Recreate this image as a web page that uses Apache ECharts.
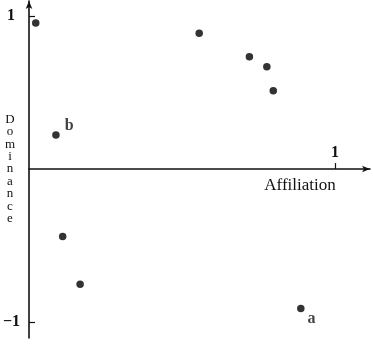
<!DOCTYPE html>
<html>
<head>
<meta charset="utf-8">
<script src="https://cdn.jsdelivr.net/npm/echarts@6/dist/echarts.min.js"></script>
<style>
  html, body { margin: 0; padding: 0; background: #fff; }
  #main { width: 373px; height: 349px; }
</style>
</head>
<body>
<div id="main"></div>
<script>
// values
const affiliation = [0.022, 0.088, 0.110, 0.167, 0.556, 0.720, 0.777, 0.798, 0.888];
const dominance   = [0.954, 0.223, -0.440, -0.752, 0.887, 0.733, 0.668, 0.511, -0.911];
const pointNames  = ['', 'b', '', '', '', '', '', '', 'a'];
const xTicks = [1];
const yTicks = [-1, 1];

const serif = '"Liberation Serif", "DejaVu Serif", serif';

const fmt = v => v < 0 ? '\u2212' + Math.abs(v) : String(v);

let myChart = echarts.init(document.getElementById('main'));

const points = affiliation.map((x, i) => {
  const item = { value: [x, dominance[i]] };
  if (pointNames[i] === 'b') {
    item.label = { show: true, formatter: 'b', position: 'right', offset: [0, -9] };
  } else if (pointNames[i] === 'a') {
    item.label = { show: true, formatter: 'a', position: 'right', offset: [-2, 10] };
  }
  return item;
});

myChart.setOption({
  animation: false,
  grid: { left: 29, right: 3, top: 1, bottom: 11, containLabel: false, outerBoundsMode: 'none' },
  xAxis: {
    type: 'value',
    min: 0,
    max: 1.114,
    axisLine: {
      onZero: true,
      symbol: ['none', 'arrow'],
      symbolSize: [5, 8],
      lineStyle: { color: '#111', width: 1.6 }
    },
    axisTick: { show: true, inside: true, length: 6, customValues: xTicks, lineStyle: { color: '#111', width: 1.2 } },
    // the label does not follow the zero line here, so it is drawn below as text
    axisLabel: { show: false },
    splitLine: { show: false }
  },
  yAxis: {
    type: 'value',
    min: -1.104,
    max: 1.098,
    axisLine: {
      symbol: ['none', 'arrow'],
      symbolSize: [5, 8],
      lineStyle: { color: '#111', width: 1.6 }
    },
    axisTick: { show: true, inside: true, length: 6, customValues: yTicks, lineStyle: { color: '#111', width: 1.2 } },
    axisLabel: {
      margin: 9, customValues: yTicks,
      formatter: v => v > 0 ? '{pos|' + fmt(v) + '}' : fmt(v),
      rich: { pos: { padding: [0, 5, 0, 0], fontFamily: serif, fontWeight: 'bold', fontSize: 16, color: '#111' } },
      color: '#111', fontFamily: serif, fontWeight: 'bold', fontSize: 16
    },
    splitLine: { show: false }
  },
  graphic: [
    {
      type: 'text', x: 335, y: 153,
      style: { text: fmt(xTicks[0]), fill: '#111', font: 'bold 16px ' + serif, align: 'center', verticalAlign: 'middle' }
    },
    {
      type: 'text', x: 300, y: 186,
      style: { text: 'Affiliation', fill: '#111', font: '17px ' + serif, align: 'center', verticalAlign: 'middle' }
    },
    {
      type: 'text', x: 10, y: 169,
      style: {
        text: 'Dominance'.split('').join('\n'),
        fill: '#111', font: '13px ' + serif, lineHeight: 12.4,
        align: 'center', verticalAlign: 'middle'
      }
    }
  ],
  series: [{
    type: 'scatter',
    symbol: 'circle',
    symbolSize: 7.5,
    itemStyle: { color: '#000' },
    label: { color: '#111', fontFamily: serif, fontWeight: 'bold', fontSize: 16 },
    data: points
  }]
});
</script>
</body>
</html>
